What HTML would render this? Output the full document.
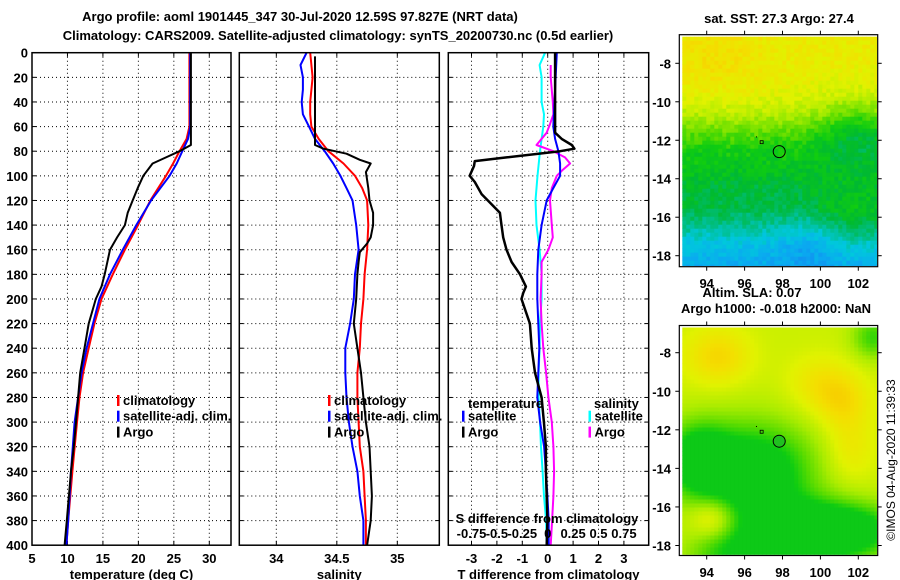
<!DOCTYPE html>
<html><head><meta charset="utf-8"><style>
html,body{margin:0;padding:0;background:#fff;}
svg{display:block;font-family:"Liberation Sans",sans-serif;font-weight:bold;}
text{font-size:13px;fill:#000;}
</style></head><body>
<svg id="fig" width="900" height="580" viewBox="0 0 900 580">
<text x="300" y="21" text-anchor="middle">Argo profile: aoml 1901445_347 30-Jul-2020 12.59S 97.827E (NRT data)</text>
<text x="338" y="40" text-anchor="middle">Climatology: CARS2009. Satellite-adjusted climatology: synTS_20200730.nc (0.5d earlier)</text>
<text x="779" y="23" text-anchor="middle">sat. SST: 27.3 Argo: 27.4</text>
<text x="752" y="297" text-anchor="middle">Altim. SLA: 0.07</text>
<text x="776" y="313" text-anchor="middle">Argo h1000: -0.018 h2000: NaN</text>
<text transform="translate(895,460) rotate(-90)" text-anchor="middle" style="font-weight:normal;font-size:12px">©IMOS 04-Aug-2020 11:39:33</text>
<g id="maps"></g>
<g id="panels"></g>
</svg>
<script>
// ---------- data ----------
const depthTicks = [0,20,40,60,80,100,120,140,160,180,200,220,240,260,280,300,320,340,360,380,400];
const tempTicks = [5,10,15,20,25,30];
const salTicks = [34,34.5,35];
const salTickLabels = ["34","34.5","35"];
const tdiffTicks = [-3,-2,-1,0,1,2,3];
const sdiffTicks = [-0.75,-0.5,-0.25,0,0.25,0.5,0.75];
const sdiffTickLabels = ["-0.75","-0.5","-0.25","0","0.25","0.5","0.75"];

const tClimDepth = [0,60,70,80,90,100,120,140,160,180,200,220,240,260,280,300,340,380,400];
const tClimVal   = [27.2,27.2,26.8,25.8,24.9,23.9,21.7,19.95,18.1,16.4,14.8,13.8,13.0,12.2,11.7,11.35,10.7,10.1,9.85];
const tSatDepth  = [0,60,70,80,90,100,120,140,160,180,200,220,240,260,280,300,340,380,400];
const tSatVal    = [27.3,27.3,27.0,26.2,25.4,24.4,21.8,19.7,17.8,16.0,14.5,13.6,12.7,12.0,11.5,11.0,10.5,10.1,9.85];
const tArgoDepth = [0,75,80,85,90,100,110,120,130,140,150,160,180,190,200,220,240,260,280,300,320,340,360,380,400];
const tArgoVal   = [27.4,27.4,25.8,23.9,22.0,20.7,19.9,19.2,18.5,18.1,17.0,16.0,15.25,14.8,14.0,13.0,12.4,11.8,11.5,11.2,10.9,10.5,10.2,9.9,9.6];

const sClimDepth = [0,20,40,50,60,70,80,90,100,110,120,140,160,180,200,220,240,260,280,300,320,340,360,380,400];
const sClimVal   = [34.28,34.30,34.28,34.28,34.29,34.35,34.43,34.555,34.65,34.71,34.75,34.76,34.75,34.73,34.72,34.70,34.69,34.67,34.67,34.68,34.69,34.72,34.73,34.74,34.74];
const sSatDepth  = [0,10,20,30,40,50,60,70,80,90,100,110,120,140,160,180,200,220,240,260,280,300,320,340,360,380,400];
const sSatVal    = [34.25,34.20,34.22,34.22,34.21,34.22,34.27,34.32,34.40,34.47,34.53,34.58,34.63,34.66,34.68,34.65,34.64,34.61,34.57,34.57,34.58,34.60,34.63,34.67,34.69,34.72,34.72];
const sArgoDepth = [3,75,78,82,87,90,97,100,110,120,130,140,150,155,162,170,180,200,220,240,260,280,300,320,340,360,380,400];
const sArgoVal   = [34.32,34.32,34.39,34.58,34.69,34.78,34.74,34.745,34.76,34.77,34.80,34.80,34.78,34.75,34.69,34.68,34.67,34.66,34.64,34.67,34.70,34.72,34.74,34.77,34.78,34.79,34.78,34.75];

const dtSatDepth  = [0,60,70,80,90,100,110,120,140,160,180,200,220,240,280,300,320,340,360,380,400];
const dtSatVal    = [0.36,0.22,0.29,0.42,0.49,0.49,0.22,-0.04,-0.24,-0.37,-0.41,-0.41,-0.37,-0.33,-0.41,-0.30,-0.14,-0.07,-0.01,0.04,0.04];
const dtArgoDepth = [0,65,70,75,78,80,85,88,92,100,105,115,130,140,150,160,170,180,190,195,200,220,240,260,280,300,320,340,360,380,400];
const dtArgoVal   = [0.29,0.29,0.55,0.95,1.05,0.49,-1.62,-2.87,-2.9,-3.07,-2.87,-2.6,-1.88,-1.82,-1.75,-1.62,-1.42,-1.09,-0.86,-0.96,-1.03,-0.70,-0.63,-0.50,-0.24,-0.15,-0.07,-0.07,-0.04,-0.01,-0.04];
const dsSatDepth  = [0,10,20,40,50,60,70,80,100,120,140,160,180,200,220,240,260,280,300,320,340,360,380,400];
const dsSatVal    = [-0.026,-0.08,-0.06,-0.06,-0.036,-0.043,-0.06,-0.076,-0.10,-0.12,-0.11,-0.08,-0.06,-0.06,-0.076,-0.08,-0.09,-0.09,-0.076,-0.066,-0.05,-0.036,-0.016,-0.01];
const dsArgoDepth = [10,20,40,50,58,65,75,80,85,90,95,100,110,120,140,150,160,170,180,200,220,240,260,280,300,320,340,360,380,400];
const dsArgoVal   = [0.03,0.03,0.05,0.056,0.023,-0.01,-0.11,0.056,0.17,0.22,0.15,0.09,0.04,0.023,0.04,0.05,0.007,-0.06,-0.06,-0.07,-0.06,-0.043,-0.016,0.007,0.04,0.056,0.063,0.056,0.043,0.03];

// ---------- geometry ----------
const NS='http://www.w3.org/2000/svg';
const Y0=52.7, Y1=545.2;
const yD = d => Y0 + (d/400)*(Y1-Y0);
function lin(d0,d1,r0,r1){return v=>r0+(v-d0)/(d1-d0)*(r1-r0);}
const P1={x0:32,x1:231}, P2={x0:239.3,x1:439.3}, P3={x0:448.3,x1:648.7};
const xT = lin(5,33.06,P1.x0,P1.x1);
const xS = lin(33.694,35.347,P2.x0,P2.x1);
const xDT = lin(-3.913,3.976,P3.x0,P3.x1);
const xDS = v => xDT(v*4);

const panels=document.getElementById('panels');
function el(tag,attrs,parent){const e=document.createElementNS(NS,tag);for(const k in attrs)e.setAttribute(k,attrs[k]);(parent||panels).appendChild(e);return e;}
function txt(x,y,s,anchor,parent){const t=el('text',{x:x,y:y,'text-anchor':anchor||'middle'},parent);t.textContent=s;return t;}

function drawPanel(P,name,xTickVals,xScale,xLabels,title){
  const g=el('g',{});
  
  
  depthTicks.forEach(d=>{ if(d>0&&d<400){
    const l=el('line',{x1:P.x0,x2:P.x1,y1:yD(d),y2:yD(d),stroke:'#000','stroke-width':1,'stroke-dasharray':'1,3'},g);
    
    
    el('line',{x1:P.x0,x2:P.x0+4,y1:yD(d),y2:yD(d),stroke:'#000'},g);
    el('line',{x1:P.x1-4,x2:P.x1,y1:yD(d),y2:yD(d),stroke:'#000'},g);
  }});
  xTickVals.forEach((v,i)=>{
    const x=xScale(v);
    if(x>P.x0+2&&x<P.x1-2){
      const l=el('line',{x1:x,x2:x,y1:Y0,y2:Y1,stroke:'#000','stroke-width':1,'stroke-dasharray':'1,3'},g);
      
      
      el('line',{x1:x,x2:x,y1:Y0,y2:Y0+4,stroke:'#000'},g);
      el('line',{x1:x,x2:x,y1:Y1-4,y2:Y1,stroke:'#000'},g);
    }
    const t=txt(x,563,xLabels[i],'middle',g);
    
    
  });
  const tt=txt((P.x0+P.x1)/2,579,title,'middle',g);
  
  
  return g;
}
function frame(P,g){
  const r=el('rect',{x:P.x0,y:Y0,width:P.x1-P.x0,height:Y1-Y0,fill:'none',stroke:'#000','stroke-width':1.5},g);
  
  
}
function series(depths,vals,xs,color,w,name,g){
  const pts=depths.map((d,i)=>xs(vals[i]).toFixed(1)+','+yD(d).toFixed(1)).join(' ');
  const p=el('polyline',{points:pts,fill:'none',stroke:color,'stroke-width':w,'stroke-linejoin':'round'},g);
  
  
}
function legend(x,y,color,label,g){
  el('rect',{x:x,y:y-9,width:2.5,height:11,fill:color},g);
  const t=txt(x+6,y+1,label,'start',g);
  
  
}

depthTicks.forEach(d=>{
  const t=txt(28,yD(d)+5,String(d),'end');
  
  
});

const g1=drawPanel(P1,'temperature-panel',tempTicks,xT,tempTicks.map(String),'temperature (deg C)');
series(tClimDepth,tClimVal,xT,'#ff0000',2,'temperature-climatology-line',g1);
series(tSatDepth,tSatVal,xT,'#0000ff',2,'temperature-satellite-line',g1);
series(tArgoDepth,tArgoVal,xT,'#000000',2,'temperature-argo-line',g1);
frame(P1,g1);
legend(117,404,'#ff0000','climatology',g1);
legend(117,419.7,'#0000ff','satellite-adj. clim.',g1);
legend(117,435.6,'#000000','Argo',g1);

const g2=drawPanel(P2,'salinity-panel',salTicks,xS,salTickLabels,'salinity');
series(sClimDepth,sClimVal,xS,'#ff0000',2,'salinity-climatology-line',g2);
series(sSatDepth,sSatVal,xS,'#0000ff',2,'salinity-satellite-line',g2);
series(sArgoDepth,sArgoVal,xS,'#000000',2,'salinity-argo-line',g2);
frame(P2,g2);
legend(328,404,'#ff0000','climatology',g2);
legend(328,419.7,'#0000ff','satellite-adj. clim.',g2);
legend(328,435.6,'#000000','Argo',g2);

const g3=drawPanel(P3,'difference-panel',tdiffTicks,xDT,tdiffTicks.map(String),'T difference from climatology');
series(dsSatDepth,dsSatVal,xDS,'#00ffff',2,'salinity-diff-satellite-line',g3);
series(dsArgoDepth,dsArgoVal,xDS,'#ff00ff',2,'salinity-diff-argo-line',g3);
series(dtSatDepth,dtSatVal,xDT,'#0000ff',2,'temperature-diff-satellite-line',g3);
series(dtArgoDepth,dtArgoVal,xDT,'#000000',2.5,'temperature-diff-argo-line',g3);
frame(P3,g3);
{const t=txt(468,408,'temperature','start',g3);}
{const t=txt(594,408,'salinity','start',g3);}
legend(462,419.7,'#0000ff','satellite',g3);
legend(462,435.6,'#000000','Argo',g3);
legend(588.5,419.7,'#00ffff','satellite',g3);
legend(588.5,435.6,'#ff00ff','Argo',g3);
{const t=txt(547,523,'S difference from climatology','middle',g3);}
sdiffTicks.forEach((v,i)=>{
  const t=txt(xDS(v),538,sdiffTickLabels[i],'middle',g3);
  
  
});

// ---------- maps ----------
const stops=[[0.22,[24,120,240]],[0.30,[10,170,240]],[0.36,[0,200,220]],[0.42,[0,190,130]],[0.47,[0,185,50]],[0.52,[16,205,16]],[0.57,[90,220,0]],[0.63,[170,236,0]],[0.69,[225,242,0]],[0.75,[244,222,0]],[0.82,[250,190,0]]];
function cmap(v){
  if(v<=stops[0][0])return stops[0][1];
  for(let i=1;i<stops.length;i++){if(v<=stops[i][0]){const a=stops[i-1],b=stops[i];const f=(v-a[0])/(b[0]-a[0]);return a[1].map((c,k)=>Math.round(c+(b[1][k]-c)*f));}}
  return stops[stops.length-1][1];
}
function interp(xs,ys,x){if(x>=xs[0])return ys[0];for(let i=1;i<xs.length;i++){if(x>=xs[i]){const f=(x-xs[i-1])/(xs[i]-xs[i-1]);return ys[i-1]+(ys[i]-ys[i-1])*f;}}return ys[ys.length-1];}
const g2d=(lon,lat,lo,la,sx,sy)=>Math.exp(-((lon-lo)**2/(2*sx*sx)+(lat-la)**2/(2*sy*sy)));
function hash(i,j){let h=(i*374761393+j*668265263)|0;h=(h^(h>>>13))*1274126177|0;return ((h^(h>>>16))>>>0)/4294967296;}
function vTop(lon,lat){
  let v=interp([-6.5,-8,-9.5,-10.5,-11.5,-12.5,-14,-15.5,-16.5,-17.5,-18.6],[0.715,0.71,0.69,0.65,0.58,0.52,0.49,0.47,0.41,0.34,0.30],lat);
  v+=0.035*g2d(lon,lat,94.5,-8,1.8,1.5);
  v-=0.09*g2d(lon,lat,102,-11.5,1.5,1.2);
  v+=0.05*g2d(lon,lat,101.5,-16.5,1.5,1.2);
  v-=0.05*g2d(lon,lat,99.5,-17.2,1.2,1.2);
  v-=0.02*g2d(lon,lat,96.5,-14.8,2.5,0.8);
  return v;
}
function vBot(lon,lat){
  let v=0.665;
  v+=0.10*g2d(lon,lat,94.6,-8.2,1.2,1.0);
  v+=0.07*g2d(lon,lat,100,-9.6,1.2,1.0);
  v+=0.08*g2d(lon,lat,101.2,-10.6,1.0,1.0);
  v+=0.06*g2d(lon,lat,101.6,-13,0.9,1.2);
  v-=0.12*g2d(lon,lat,102.8,-7.2,0.8,0.8);
  v-=0.22*g2d(lon,lat,96.5,-14.2,2.2,1.8);
  v-=0.18*g2d(lon,lat,93.5,-13.5,1.2,1.3);
  v-=0.20*g2d(lon,lat,98.5,-17.5,2.2,1.2);
  v-=0.18*g2d(lon,lat,101.5,-17.2,2.0,1.0);
  v-=0.10*g2d(lon,lat,95,-18.5,1.5,0.8);
  v+=0.10*g2d(lon,lat,94.3,-16.6,0.8,0.7);
  return Math.max(v,0.51);
}
const mapsG=document.getElementById('maps');
const lonTicks=[94,96,98,100,102];
const latTicks=[-8,-10,-12,-14,-16,-18];
function drawMap(M,fn,noise,name,filledMarker){
  const g=el('g',{},mapsG);
  
  
  const xL=lin(94,102,706.7,858.3), yL=lin(-8,-18,M.latY8,M.latY18);
  const cell=4;
  for(let y=M.y0+2,j=0;y<M.y1-1;y+=cell,j++){
    for(let x=M.x0+3,i=0;x<M.x1-1;x+=cell,i++){
      const lon=94+(x+2-706.7)/(858.3-706.7)*8;
      const lat=-8-(y+2-M.latY8)/(M.latY18-M.latY8)*10;
      let v=fn(lon,lat);
      if(noise)v+=(hash(i,j)-0.5)*0.05;
      const c=cmap(v);
      el('rect',{x:x,y:y,width:Math.min(cell,M.x1-1-x)+0.3,height:Math.min(cell,M.y1-1-y)+0.3,fill:'rgb('+c+')'},g);
    }
  }
  const r=el('rect',{x:M.x0,y:M.y0,width:M.x1-M.x0,height:M.y1-M.y0,fill:'none',stroke:'#000','stroke-width':1.2},g);
  
  
  lonTicks.forEach(lo=>{const x=xL(lo);
    el('line',{x1:x,x2:x,y1:M.y0-4,y2:M.y0,stroke:'#000'},g);
    el('line',{x1:x,x2:x,y1:M.y1,y2:M.y1+4,stroke:'#000'},g);
    const t=txt(x,M.lonLabelY,String(lo),'middle',g);
    
    
  });
  latTicks.forEach(la=>{const y=yL(la);
    el('line',{x1:M.x0-4,x2:M.x0,y1:y,y2:y,stroke:'#000'},g);
    el('line',{x1:M.x1,x2:M.x1+4,y1:y,y2:y,stroke:'#000'},g);
    const t=txt(671,y+5,String(la),'end',g);
    
    
  });
  const c=el('circle',{cx:xL(97.827),cy:yL(-12.59),r:6,fill:filledMarker?'#20c020':'none',stroke:'#000','stroke-width':1},g);
  
  
  el('rect',{x:xL(96.9)-1.5,y:yL(-12.1)-1.5,width:3,height:3,fill:'none',stroke:'#000','stroke-width':0.8},g);
  el('rect',{x:xL(96.6),y:yL(-11.8),width:1,height:1,fill:'#000'},g);
}
drawMap({x0:679.3,x1:877.7,y0:34.7,y1:266.7,latY8:63.3,latY18:255.7,lonLabelY:288},vTop,true,'sst-map',false);
drawMap({x0:679.3,x1:877.7,y0:325.5,y1:555.5,latY8:352.7,latY18:545.5,lonLabelY:577},vBot,false,'sla-map',true);
</script>
</body></html>
